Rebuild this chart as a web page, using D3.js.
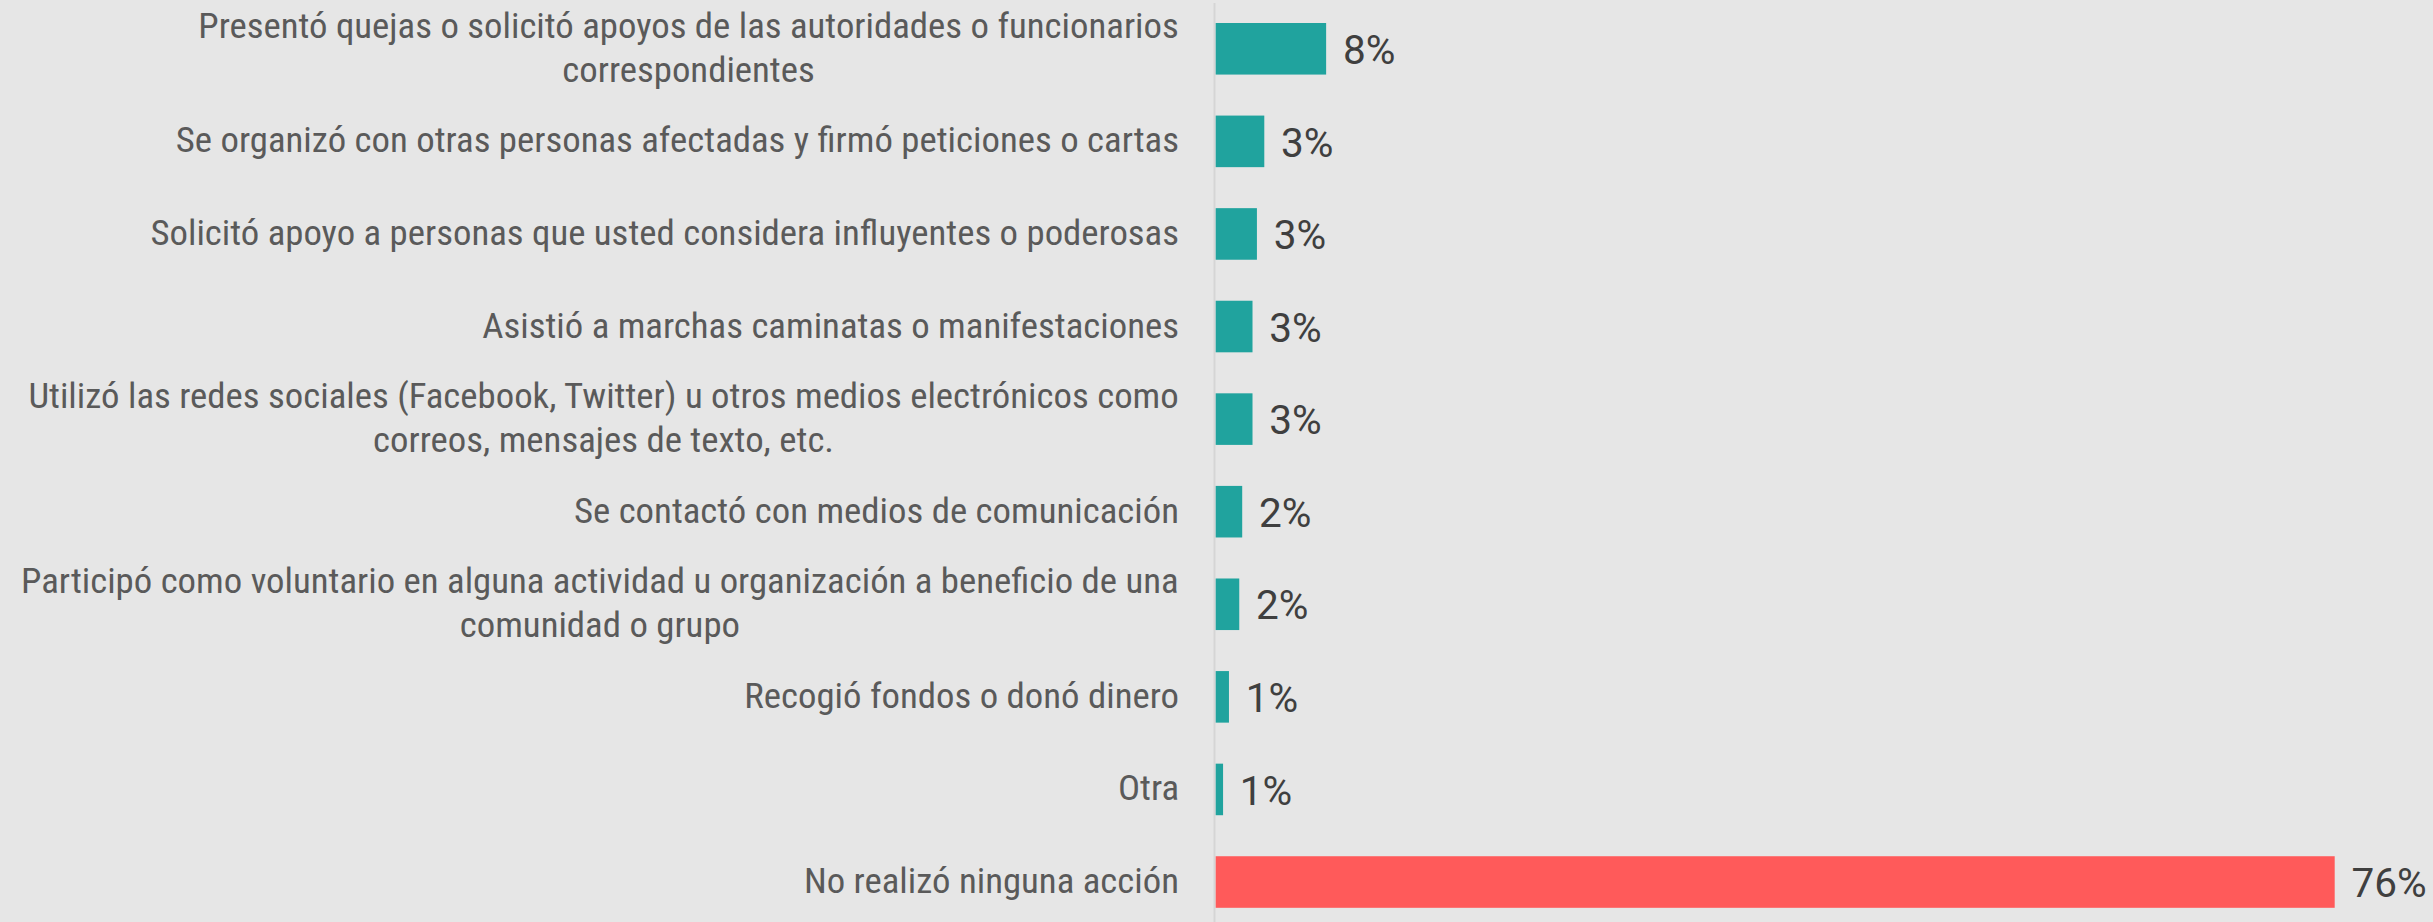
<!DOCTYPE html>
<html>
<head>
<meta charset="utf-8">
<script src="https://cdn.jsdelivr.net/npm/d3@7"></script>
<style>
  html, body { margin: 0; padding: 0; background: #e6e6e6; }
  svg { display: block; }
</style>
</head>
<body>
<script>
// ---- data ----
const categories = [
  ["Presentó quejas o solicitó apoyos de las autoridades o funcionarios", "correspondientes"],
  ["Se organizó con otras personas afectadas y firmó peticiones o cartas"],
  ["Solicitó apoyo a personas que usted considera influyentes o poderosas"],
  ["Asistió a marchas caminatas o manifestaciones"],
  ["Utilizó las redes sociales (Facebook, Twitter) u otros medios electrónicos como", "correos, mensajes de texto, etc."],
  ["Se contactó con medios de comunicación"],
  ["Participó como voluntario en alguna actividad u organización a beneficio de una", "comunidad o grupo"],
  ["Recogió fondos o donó dinero"],
  ["Otra"],
  ["No realizó ninguna acción"]
];
const values = [7.5, 3.3, 2.8, 2.5, 2.5, 1.8, 1.6, 0.9, 0.5, 76];
const highlight = [false, false, false, false, false, false, false, false, false, true];

// ---- layout ----
const W = 2433, H = 922;
const barX0 = 1215.7, barX76 = 2334.7;
const labelRight = 1179;
const teal = "#20a39e", red = "#ff5a5a";

const svg = d3.select("body").append("svg").attr("width", W).attr("height", H);
svg.append("rect").attr("width", W).attr("height", H).attr("fill", "#e6e6e6");

const idx = d3.range(values.length);
const y = d3.scaleBand().domain(idx).range([23, 907.8]).paddingInner(0.443).paddingOuter(0);
const x = d3.scaleLinear().domain([0, 76]).range([barX0, barX76]);

// axis line
svg.append("line")
  .attr("x1", 1214.5).attr("x2", 1214.5).attr("y1", 3).attr("y2", H)
  .attr("stroke", "#d5d5d5").attr("stroke-width", 2);

// bars
svg.selectAll("rect.bar").data(idx).join("rect")
  .attr("class", "bar")
  .attr("x", x(0))
  .attr("y", i => y(i))
  .attr("width", i => x(values[i]) - x(0))
  .attr("height", y.bandwidth())
  .attr("fill", i => highlight[i] ? red : teal);

// value labels
svg.selectAll("text.val").data(idx).join("text")
  .attr("class", "val")
  .attr("x", i => x(values[i]) + 16.8)
  .attr("y", i => y(i) + y.bandwidth() / 2 + 15.2)
  .attr("font-family", "Roboto, 'Noto Sans', sans-serif")
  .attr("font-size", 40.5)
  .attr("fill", "#3f3f3f")
  .text(i => Math.round(values[i]) + "%");

// category labels
const fs = 36, lh = 44.4;
const groups = svg.selectAll("g.lab").data(idx).join("g").attr("class", "lab");
groups.each(function(i) {
  const g = d3.select(this);
  const lines = categories[i];
  const cy = y(i) + y.bandwidth() / 2;
  const texts = lines.map((ln, k) => g.append("text")
    .attr("font-family", "'Roboto Condensed', Roboto, 'Noto Sans', sans-serif")
    .attr("font-size", fs)
    .attr("fill", "#5a5a5a")
    .attr("y", 11 - (lines.length - 1) * lh / 2 + k * lh)
    .text(ln));
  const widths = texts.map(t => t.node().getComputedTextLength());
  const maxW = d3.max(widths);
  texts.forEach(t => {
    if (lines.length > 1) t.attr("text-anchor", "middle").attr("x", -maxW / 2);
    else t.attr("text-anchor", "end").attr("x", 0);
  });
  g.attr("data-cy", cy);
});
// horizontal width factor so the first label line matches the reference face width
const refW = groups.filter(i => i === 0).select("text").node().getComputedTextLength();
const sx = 981 / refW;
groups.attr("transform", function(i) {
  const cy = +d3.select(this).attr("data-cy");
  return `translate(${labelRight},${cy}) scale(${sx},1)`;
});
</script>
</body>
</html>
